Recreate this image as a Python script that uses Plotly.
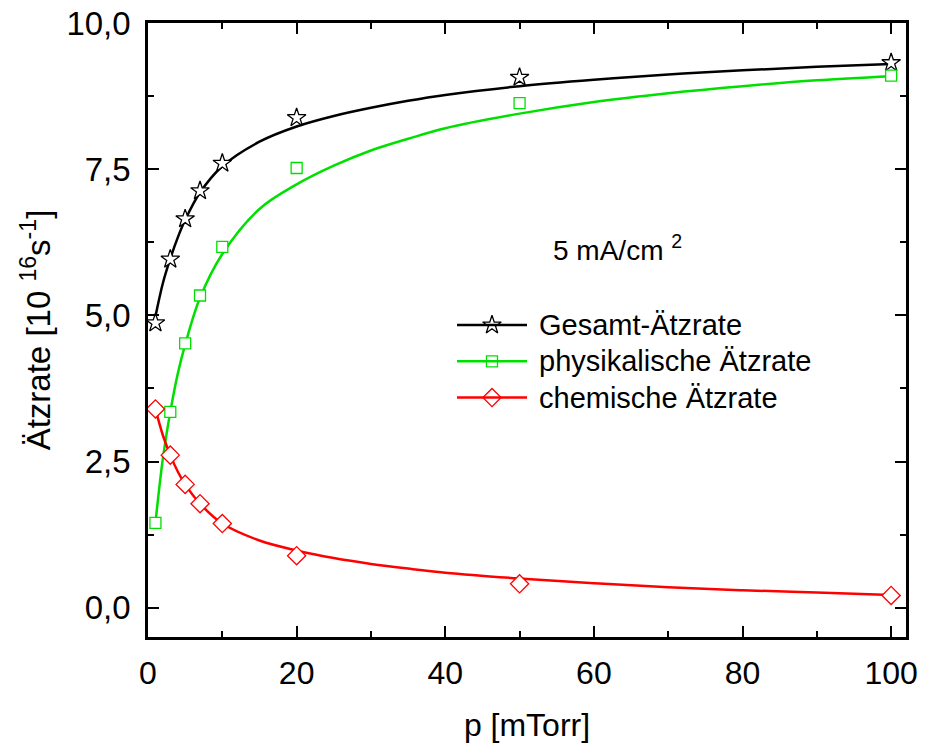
import plotly.graph_objects as go

# measured points
p = [1, 3, 5, 7, 10, 20, 50, 100]
gesamt = [4.87, 5.96, 6.65, 7.13, 7.60, 8.38, 9.07, 9.32]
physik = [1.45, 3.35, 4.52, 5.34, 6.17, 7.52, 8.63, 9.10]
chemie = [3.40, 2.61, 2.11, 1.78, 1.44, 0.89, 0.41, 0.21]

# fitted curves
fit_p = [1, 2, 3, 4, 5, 7, 10, 15, 20, 25, 30, 35, 40, 50, 60, 70, 80, 90, 100]
fit_gesamt = [4.98, 5.55, 5.97, 6.33, 6.63, 7.10, 7.55, 7.97, 8.23, 8.41, 8.55, 8.67, 8.77, 8.92, 9.03, 9.12, 9.19, 9.25, 9.30]
fit_physik = [1.45, 2.55, 3.35, 4.00, 4.50, 5.30, 6.05, 6.82, 7.24, 7.56, 7.82, 8.02, 8.20, 8.45, 8.65, 8.80, 8.92, 9.02, 9.09]
fit_chemie = [3.40, 2.95, 2.61, 2.33, 2.11, 1.78, 1.44, 1.15, 0.98, 0.85, 0.75, 0.67, 0.60, 0.50, 0.42, 0.35, 0.30, 0.26, 0.22]

names = ["Gesamt-Ätzrate", "physikalische Ätzrate", "chemische Ätzrate"]
colors = ["#000000", "#00e000", "#ff0000"]
symbols = ["star", "square", "diamond"]
msizes = [14, 11, 14]

x_ticks = [0, 20, 40, 60, 80, 100]
y_ticks = [0, 2.5, 5, 7.5, 10]

FONT = "Liberation Sans, Arial, sans-serif"

fig = go.Figure()
fits = [fit_gesamt, fit_physik, fit_chemie]
pts = [gesamt, physik, chemie]
for i in range(3):
    fig.add_trace(go.Scatter(x=fit_p, y=fits[i], mode="lines",
                             line=dict(color=colors[i], width=2.5, shape="spline", smoothing=1.0),
                             showlegend=False, hoverinfo="skip"))
for i in range(3):
    fig.add_trace(go.Scatter(x=p, y=pts[i], mode="markers", name=names[i],
                             marker=dict(symbol=symbols[i], size=msizes[i], color="white",
                                         line=dict(color=colors[i], width=1.3)),
                             showlegend=False))

# custom legend (paper-fraction coordinates on a hidden overlay axis)
leg_y = [0.508, 0.449, 0.390]
lx0, lx1, lxm, ltx = 0.4077, 0.500, 0.4538, 0.513
for i in range(3):
    fig.add_shape(type="line", xref="paper", yref="paper", x0=lx0, x1=lx1, y0=leg_y[i], y1=leg_y[i],
                  line=dict(color=colors[i], width=2.5))
    fig.add_annotation(xref="paper", yref="paper", x=ltx, y=leg_y[i], text=names[i], showarrow=False,
                       xanchor="left", yanchor="middle", font=dict(size=29, color="black", family=FONT))
    fig.add_trace(go.Scatter(x=[lxm], y=[leg_y[i]], xaxis="x2", yaxis="y2", mode="markers",
                             marker=dict(symbol=symbols[i], size=msizes[i], color="white",
                                         line=dict(color=colors[i], width=1.3)),
                             showlegend=False, hoverinfo="skip"))

fig.add_annotation(xref="paper", yref="paper", x=0.62, y=0.633, text="5 mA/cm <sup>2</sup>",
                   showarrow=False, xanchor="center", yanchor="middle",
                   font=dict(size=28, color="black", family=FONT))

axis_common = dict(showline=True, linecolor="black", linewidth=2.5, mirror="ticks",
                   ticks="inside", ticklen=11, tickwidth=2, tickcolor="black",
                   showgrid=False, zeroline=False, automargin=False)

fig.update_layout(
    width=930, height=745,
    margin=dict(l=148, r=24, t=23, b=108),
    paper_bgcolor="white", plot_bgcolor="white",
    separators=",.",
    font=dict(family=FONT, color="black"),
    xaxis=dict(range=[0, 102], tickvals=x_ticks, ticktext=[str(v) for v in x_ticks],
               tickfont=dict(size=32), ticklabelstandoff=6,
               minor=dict(dtick=10, tick0=0, ticks="inside", ticklen=6, tickwidth=2, tickcolor="black"),
               title=dict(text="p [mTorr]", font=dict(size=32), standoff=24),
               **axis_common),
    yaxis=dict(range=[-0.5, 10], tickvals=y_ticks, tickformat=".1f",
               tickfont=dict(size=33), ticklabelstandoff=8,
               minor=dict(dtick=1.25, tick0=0, ticks="inside", ticklen=6, tickwidth=2, tickcolor="black"),
               title=dict(text="Ätzrate [10 <sup>16</sup>s<sup>-1</sup>]", font=dict(size=33), standoff=6),
               **axis_common),
    xaxis2=dict(overlaying="x", range=[0, 1], visible=False),
    yaxis2=dict(overlaying="y", range=[0, 1], visible=False),
    showlegend=False,
)

fig.write_html("out.html")
